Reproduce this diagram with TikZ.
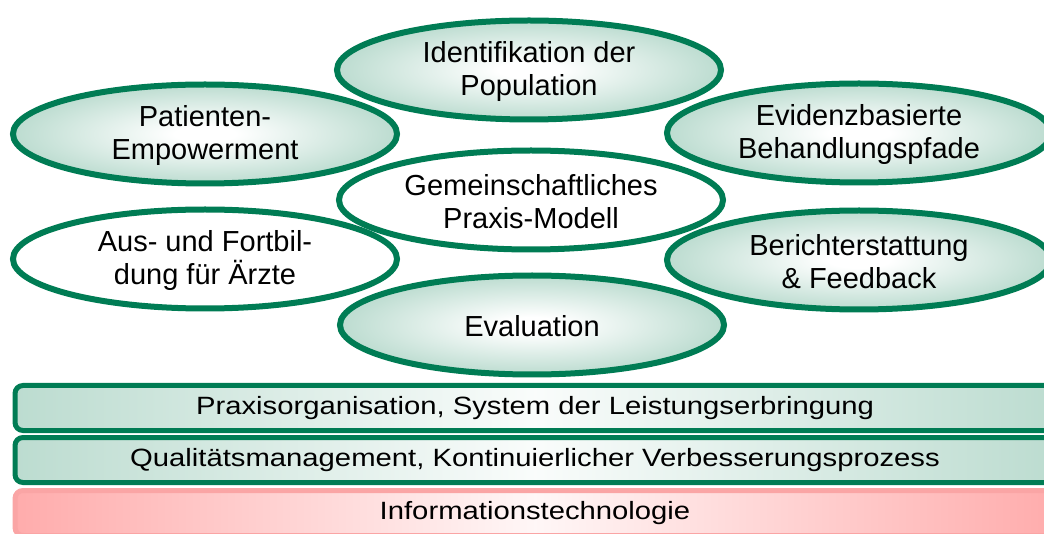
\documentclass[tikz,border=0pt]{standalone}
\usepackage{fontspec}
\setmainfont{Liberation Sans}
\usetikzlibrary{shapes.geometric}
\definecolor{dgreen}{RGB}{0,124,84}
\definecolor{lgreen}{RGB}{188,220,208}
\definecolor{pinkedge}{RGB}{255,172,172}
\definecolor{pinkline}{RGB}{250,165,165}
\pgfdeclareradialshading{ellshade}{\pgfpoint{0bp}{0bp}}{color(0bp)=(white); color(4bp)=(white); color(25bp)=(lgreen); color(50bp)=(lgreen)}
\tikzset{
  ell/.style={ellipse, draw=dgreen, line width=6pt, minimum width=384pt, minimum height=99pt, inner sep=0pt},
  gell/.style={ell, shading=ellshade},
  well/.style={ell, fill=white},
  etext/.style={align=center, inner sep=0pt, font=\fontsize{29}{33}\selectfont},
  bar/.style={rounded corners=8pt, line width=5pt, minimum width=1040pt, minimum height=45pt, inner sep=0pt, anchor=west, font=\fontsize{25}{28}\selectfont},
  gbar/.style={bar, draw=dgreen, left color=lgreen, right color=lgreen, middle color=white!92!lgreen},
  pbar/.style={bar, draw=pinkline, left color=pinkedge, right color=pinkedge, middle color=white!90!pinkedge},
}
\newcommand{\bartext}[1]{\scalebox{1.17}[1]{#1}}
\begin{document}
\begin{tikzpicture}[x=1pt,y=-1pt]
\useasboundingbox (0,0) rectangle (1044,534);
\clip (0,0) rectangle (1044,534);
\node[gell] (pat) at (205,134) {};
\node[etext] (pat-t) at ([yshift=-2pt]pat.center) {Patienten-\\Empowerment};
\node[gell] (evid) at (859,133) {};
\node[etext] (evid-t) at ([yshift=-2pt]evid.center) {Evidenzbasierte\\Behandlungspfade};
\node[gell] (ident) at (529,70) {};
\node[etext] (ident-t) at ([yshift=-2pt]ident.center) {Identifikation der\\Population};
\node[well] (aus) at (205,259) {};
\node[etext] (aus-t) at ([yshift=-2pt]aus.center) {Aus- und Fortbil-\\dung für Ärzte};
\node[gell] (ber) at (859,260) {};
\node[etext] (ber-t) at ([yshift=-2pt]ber.center) {Berichterstattung\\\& Feedback};
\node[well] (gem) at (531,200) {};
\node[etext] (gem-t) at ([yshift=-2pt]gem.center) {Gemeinschaftliches\\Praxis-Modell};
\node[gell] (eval) at (532,325) {};
\node[etext] (eval-t) at ([yshift=-1pt]eval.center) {Evaluation};
\node[gbar] (b1) at (12.5,408) {\bartext{Praxisorganisation, System der Leistungserbringung}};
\node[gbar] (b2) at (12.5,460) {\bartext{Qualitätsmanagement, Kontinuierlicher Verbesserungsprozess}};
\node[pbar] (b3) at (12.5,513) {\bartext{Informationstechnologie}};
\end{tikzpicture}
\end{document}
